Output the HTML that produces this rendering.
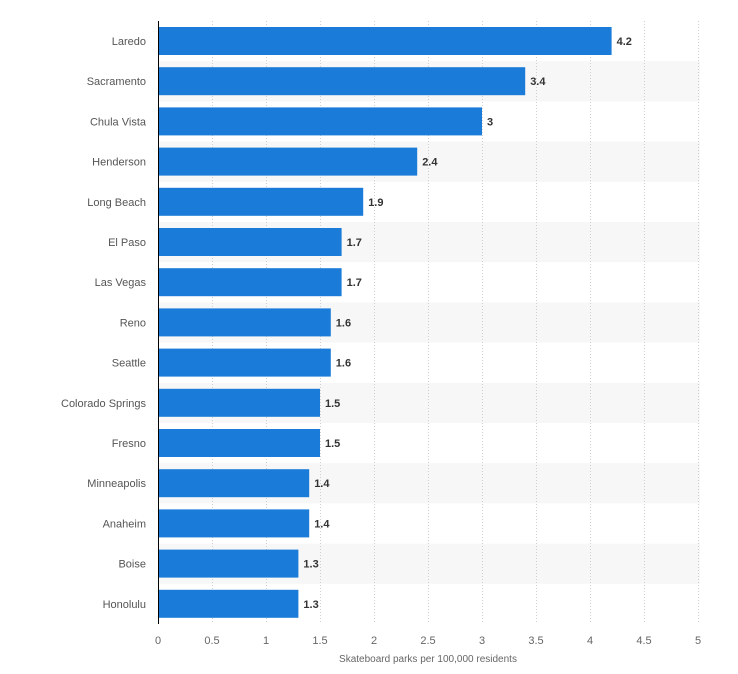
<!DOCTYPE html>
<html><head><meta charset="utf-8">
<style>
html,body{margin:0;padding:0;background:#fff;}
svg{display:block;font-family:"Liberation Sans",sans-serif;}
</style></head>
<body>
<svg id="chart" width="738" height="674" viewBox="0 0 738 674"></svg>
<script>
const categories = ["Laredo","Sacramento","Chula Vista","Henderson","Long Beach","El Paso","Las Vegas","Reno","Seattle","Colorado Springs","Fresno","Minneapolis","Anaheim","Boise","Honolulu"];
const values = [4.2,3.4,3,2.4,1.9,1.7,1.7,1.6,1.6,1.5,1.5,1.4,1.4,1.3,1.3];
const valueLabels = ["4.2","3.4","3","2.4","1.9","1.7","1.7","1.6","1.6","1.5","1.5","1.4","1.4","1.3","1.3"];
const ticks = [0,0.5,1,1.5,2,2.5,3,3.5,4,4.5,5];
const tickLabels = ["0","0.5","1","1.5","2","2.5","3","3.5","4","4.5","5"];

const NS="http://www.w3.org/2000/svg";
const svg=document.getElementById('chart');
const x0=158, pxPerUnit=108, plotTop=21, pitch=40.2, barH=28;
const xs=v=>x0+v*pxPerUnit;
const ys=i=>plotTop+i*pitch;
function mk(tag,attrs,parent){const e=document.createElementNS(NS,tag);for(const k in attrs)e.setAttribute(k,attrs[k]);(parent||svg).appendChild(e);return e;}
const plotBottom=ys(categories.length);

categories.forEach((c,i)=>{ if(i%2===1){
  const r=mk('rect',{x:x0,y:ys(i),width:xs(5)-x0+2,height:pitch,fill:'#f7f7f7'});
  
  
}});
ticks.forEach((t,i)=>{
  if(t>0){
    const g=mk('line',{x1:xs(t)+0.5,x2:xs(t)+0.5,y1:plotTop,y2:plotBottom,stroke:'#cfcfcf','stroke-dasharray':'1,2'});
    
    
  }
  const tl=mk('text',{x:xs(t),y:644,'text-anchor':'middle','font-size':'11',fill:'#666'});
  tl.textContent=tickLabels[i];
  
  
});
categories.forEach((c,i)=>{
  const b=mk('rect',{x:x0,y:ys(i)+6,width:xs(values[i])-x0,height:barH,fill:'#1a7bd8'});
  
  
  const l=mk('text',{x:146,y:ys(i)+24,'text-anchor':'end','font-size':'11',fill:'#555'});
  l.textContent=c;
  
  
  const v=mk('text',{x:xs(values[i])+5,y:ys(i)+24,'font-size':'11','font-weight':'bold',fill:'#333'});
  v.textContent=valueLabels[i];
  
  
});
const ax=mk('line',{x1:x0+0.5,x2:x0+0.5,y1:plotTop,y2:plotBottom,stroke:'#000','stroke-width':1});


const tt=mk('text',{x:428,y:662,'text-anchor':'middle','font-size':'10',fill:'#666'});
tt.textContent='Skateboard parks per 100,000 residents';


</script>
</body></html>
